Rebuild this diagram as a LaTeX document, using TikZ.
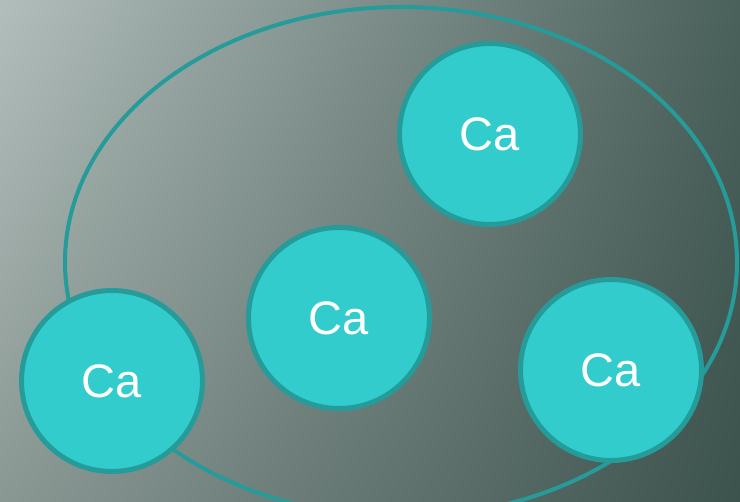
\documentclass[tikz,border=0pt]{standalone}
\usepackage{fontspec}
\setmainfont{Liberation Sans}
\usetikzlibrary{shadings}
\definecolor{cafill}{HTML}{33CCCC}
\definecolor{castroke}{HTML}{259B9A}
\definecolor{bgUL}{HTML}{B2BEBB}
\definecolor{bgUR}{HTML}{4A605B}
\definecolor{bgLL}{HTML}{8A9894}
\definecolor{bgLR}{HTML}{3C524D}
\tikzset{
  atom/.style={circle, fill=cafill, draw=castroke, line width=5pt,
    minimum size=181pt, inner sep=0pt, text=white,
    font=\fontsize{47}{47}\selectfont},
  shell/.style={draw=castroke, line width=4pt}
}
\begin{document}
\begin{tikzpicture}[x=1pt,y=-1pt]
\useasboundingbox (0,0) rectangle (740,502);
\clip (0,0) rectangle (740,502);
\shade[upper left=bgUL, upper right=bgUR, lower left=bgLL, lower right=bgLR]
  (0,0) rectangle (740,502);
\coordinate (ec) at (401,262);
\draw[shell] (ec) ellipse [x radius=336pt, y radius=255pt];
\node[atom] (a1) at (490,134) {Ca};
\node[atom] (a2) at (339,318) {Ca};
\node[atom] (a3) at (112,381) {Ca};
\node[atom] (a4) at (611,370) {Ca};
\end{tikzpicture}
\end{document}
